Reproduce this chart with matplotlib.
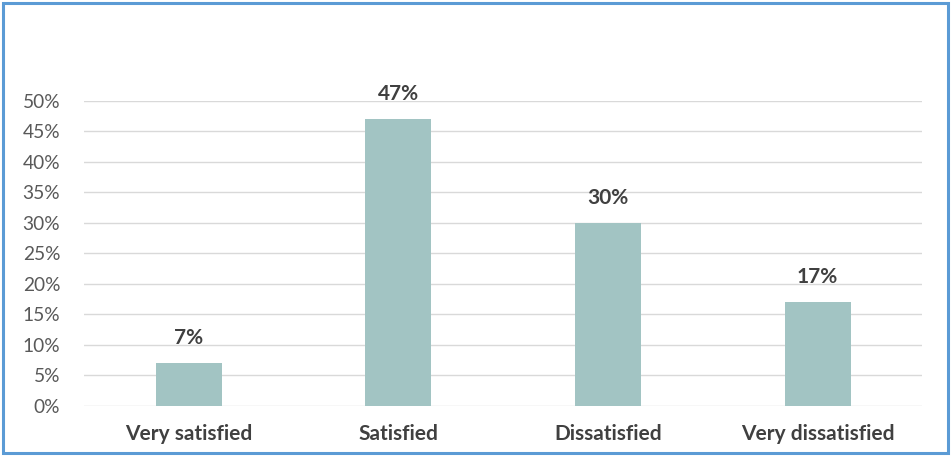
import matplotlib.pyplot as plt
from matplotlib.patches import Rectangle
from matplotlib.ticker import PercentFormatter

categories = ['Very satisfied', 'Satisfied', 'Dissatisfied', 'Very dissatisfied']
shares = [0.07, 0.47, 0.30, 0.17]
value_labels = ['7%', '47%', '30%', '17%']

plt.rcParams['font.family'] = ['Lato', 'DejaVu Sans']

fig = plt.figure(figsize=(9.52, 4.57), dpi=100)
ax = fig.add_axes([0.088, 0.1116, 0.881, 0.6674])

x = range(len(categories))
ax.bar(x, shares, width=0.315, color='#A2C4C3', zorder=2)
for xi, v, lab in zip(x, shares, value_labels):
    ax.text(xi, v + 0.025, lab, ha='center', va='bottom', fontsize=15,
            fontweight='bold', color='#404040')

ax.set_xlim(-0.5, 3.5)
ax.set_ylim(0, 0.5)
ax.set_yticks([i * 0.05 for i in range(11)])
ax.yaxis.set_major_formatter(PercentFormatter(1.0, decimals=0))
ax.grid(axis='y', color='#D9D9D9', linewidth=1, zorder=0)
ax.set_xticks(list(x))
ax.set_xticklabels(categories, fontsize=15, fontweight='bold', color='#404040')
ax.tick_params(axis='y', labelsize=13.8, labelcolor='#595959', length=0, pad=17)
ax.tick_params(axis='x', length=0, pad=13)
for s in ax.spines.values():
    s.set_visible(False)

fig.patches.append(Rectangle((0.003, 0.008), 0.993, 0.985, transform=fig.transFigure,
                             fill=False, edgecolor='#5B9BD5', linewidth=2.2))

fig.savefig('out.png', dpi=100)
